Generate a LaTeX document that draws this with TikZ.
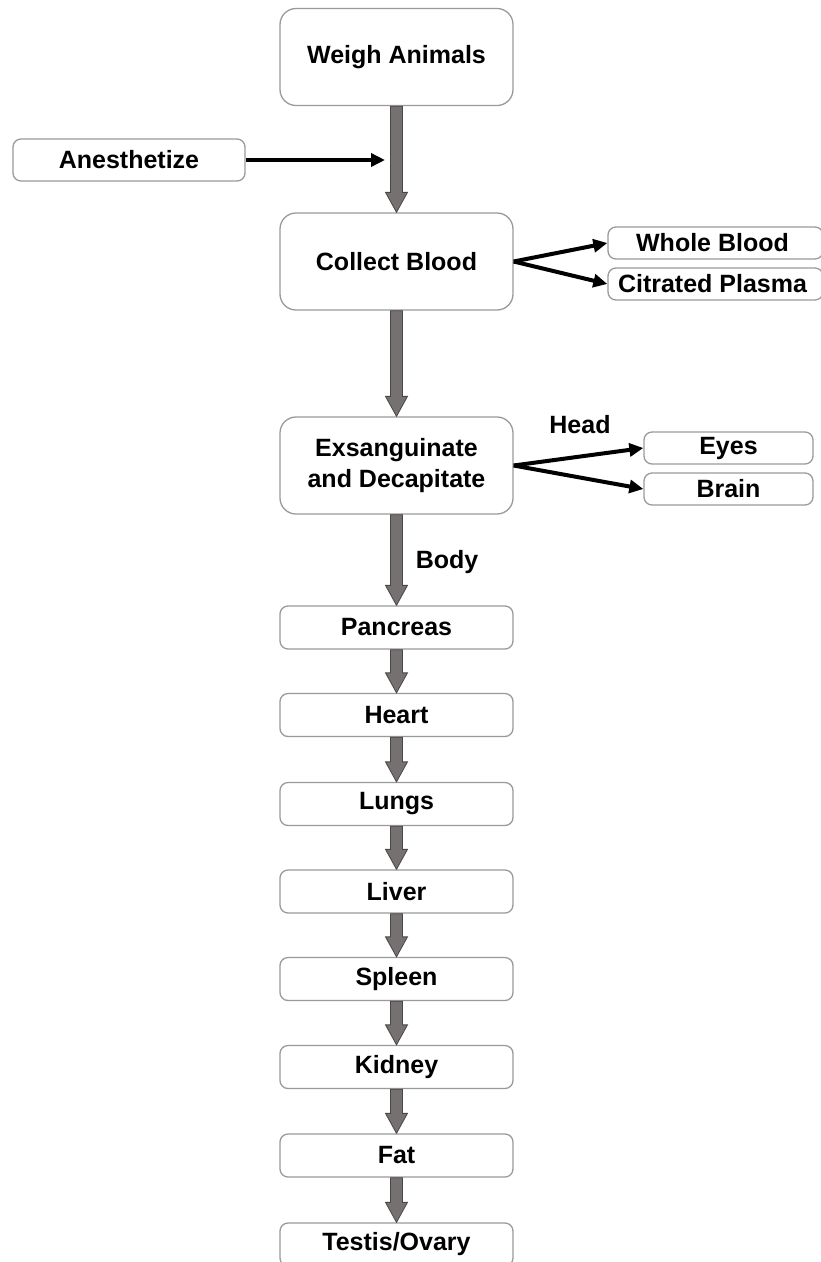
\documentclass[tikz,border=0pt]{standalone}
\usepackage{fontspec}
\setmainfont{Liberation Sans}
\usetikzlibrary{arrows.meta,calc}
\definecolor{boxgray}{HTML}{9A9A9A}
\definecolor{arrfill}{HTML}{767171}
\definecolor{arrline}{HTML}{4A4646}
\newcommand\garrow[2]{%
  \draw[garr] let \p1=(#1.south), \p2=(#2.north) in
    ({\x1-6pt},{\y1}) -- ({\x1-6pt},{\y2+20pt}) -- ({\x1-11pt},{\y2+20pt}) --
    ({\x1},{\y2}) -- ({\x1+11pt},{\y2+20pt}) -- ({\x1+6pt},{\y2+20pt}) --
    ({\x1+6pt},{\y1}) -- cycle;}
\begin{document}
\begin{tikzpicture}[x=1pt,y=-1pt,
  box/.style={draw=boxgray, line width=1.3pt, rounded corners=8pt, fill=white,
    font=\fontsize{25}{31}\selectfont\bfseries, inner sep=0pt, align=center},
  big/.style={box, rounded corners=16pt, minimum width=233pt, minimum height=97pt},
  organ/.style={box, minimum width=233pt, minimum height=43pt},
  side/.style={box, minimum height=32pt},
  lbl/.style={font=\fontsize{25}{31}\selectfont\bfseries, inner sep=0pt},
  blk/.style={line width=4pt, -{Triangle[length=14pt,width=13pt]}},
  garr/.style={fill=arrfill, draw=arrline, line width=0.8pt},
  ]
\useasboundingbox (0,0) rectangle (821,1262);
\clip (0,0) rectangle (821,1262);

\node[big] (weigh) at (396.5,57) {Weigh Animals};
\node[box, minimum width=232pt, minimum height=42pt] (anest) at (129,160) {Anesthetize};
\node[big] (collect) at (396.5,261.5) {Collect Blood};
\node[side, minimum width=215pt] (whole) at (715.5,243) {\hspace*{-6pt}Whole Blood};
\node[side, minimum width=215pt] (citr) at (715.5,284) {\hspace*{-6pt}Citrated Plasma};
\node[big] (exs) at (396.5,465.5) {Exsanguinate\\and Decapitate};
\node[side, minimum width=169pt] (eyes) at (728.5,448) {Eyes};
\node[side, minimum width=169pt] (brain) at (728.5,489) {Brain};
\node[lbl] (head) at (580,425) {Head};
\node[lbl] (body) at (447,562) {Body};

\node[organ] (pancreas) at (396.5,627.5) {Pancreas};
\node[organ] (heart) at (396.5,715) {Heart};
\node[organ] (lungs) at (396.5,804) {Lungs};
\node[organ] (liver) at (396.5,891.5) {Liver};
\node[organ] (spleen) at (396.5,979) {Spleen};
\node[organ] (kidney) at (396.5,1067) {Kidney};
\node[organ] (fat) at (396.5,1155.5) {Fat};
\node[organ] (testis) at (396.5,1244.5) {Testis/Ovary};

\garrow{weigh}{collect}
\garrow{collect}{exs}
\garrow{exs}{pancreas}
\garrow{pancreas}{heart}
\garrow{heart}{lungs}
\garrow{lungs}{liver}
\garrow{liver}{spleen}
\garrow{spleen}{kidney}
\garrow{kidney}{fat}
\garrow{fat}{testis}

\coordinate (anestend) at (385,160);
\draw[blk] (anest.east) -- (anestend);
\draw[blk] (collect.east) -- (whole.west);
\draw[blk] (collect.east) -- (citr.west);
\draw[blk] (exs.east) -- (eyes.west);
\draw[blk] (exs.east) -- (brain.west);
\end{tikzpicture}
\end{document}
